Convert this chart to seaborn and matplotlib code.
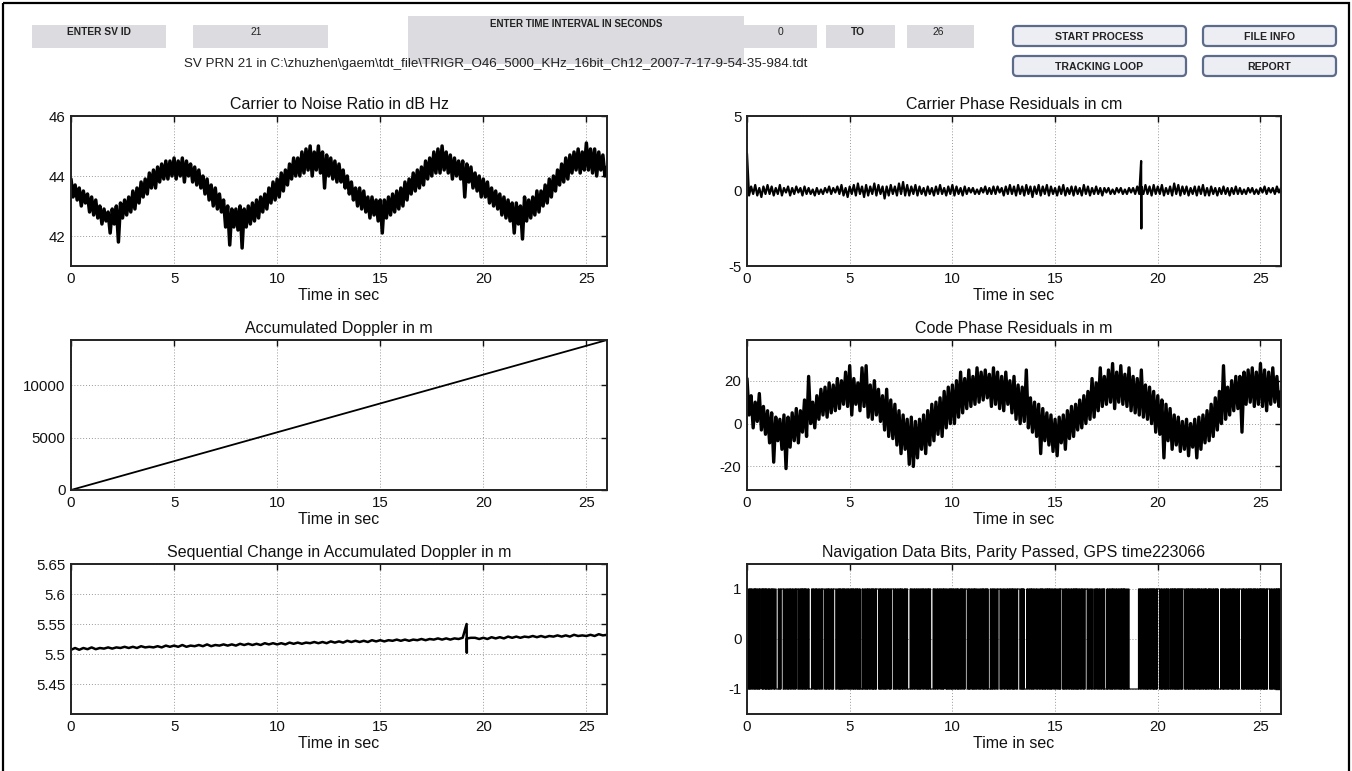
import numpy as np
import pandas as pd
import matplotlib
matplotlib.use("Agg")
import matplotlib.pyplot as plt
from matplotlib.patches import FancyBboxPatch, Rectangle
import seaborn as sns

# ---------------- data ----------------
sample_step = 0.1  # s, for the noisy traces
cn0_db = [
    43.9, 43.3, 43.7, 43.2, 43.6, 43.0, 43.5, 43.1, 43.4, 42.8,
    43.3, 42.7, 43.2, 42.6, 43.0, 42.4, 42.9, 42.5, 42.8, 42.1,
    42.9, 42.4, 43.0, 41.8, 43.1, 42.6, 43.2, 42.7, 43.3, 42.8,
    43.5, 42.9, 43.6, 43.1, 43.8, 43.3, 43.9, 43.4, 44.1, 43.6,
    44.2, 43.6, 44.3, 43.8, 44.4, 43.9, 44.5, 43.9, 44.5, 44.0,
    44.6, 43.9, 44.5, 44.0, 44.6, 43.8, 44.5, 44.0, 44.4, 43.8,
    44.3, 43.7, 44.2, 43.6, 44.0, 43.4, 43.9, 43.2, 43.7, 43.0,
    43.6, 42.9, 43.4, 42.8, 43.2, 42.3, 43.0, 41.7, 42.9, 42.3,
    42.9, 42.2, 43.0, 41.6, 42.9, 42.3, 43.0, 42.4, 43.1, 42.5,
    43.2, 42.6, 43.3, 42.8, 43.4, 42.9, 43.6, 43.1, 43.8, 43.2,
    43.9, 43.3, 44.1, 43.5, 44.2, 43.7, 44.4, 43.9, 44.6, 44.0,
    44.6, 44.0, 44.8, 44.1, 44.9, 44.2, 45.0, 44.0, 44.8, 44.2,
    45.0, 44.1, 44.8, 43.6, 44.7, 44.0, 44.6, 43.9, 44.5, 43.8,
    44.4, 43.8, 44.2, 43.6, 44.0, 43.4, 43.8, 43.2, 43.6, 43.0,
    43.6, 42.9, 43.5, 42.8, 43.3, 42.6, 43.3, 42.7, 43.2, 42.5,
    43.2, 42.1, 43.2, 42.6, 43.3, 42.7, 43.4, 42.8, 43.5, 42.9,
    43.6, 43.0, 43.8, 43.2, 43.9, 43.4, 44.1, 43.5, 44.2, 43.6,
    44.3, 43.7, 44.5, 43.9, 44.6, 44.0, 44.8, 44.1, 44.9, 44.1,
    45.0, 44.2, 44.8, 44.1, 44.7, 43.9, 44.6, 44.0, 44.5, 43.9,
    44.5, 43.3, 44.4, 43.8, 44.3, 43.6, 44.1, 43.5, 44.0, 43.3,
    43.9, 43.3, 43.8, 43.1, 43.6, 43.0, 43.5, 42.9, 43.4, 42.7,
    43.3, 42.6, 43.2, 42.5, 43.1, 42.1, 43.1, 42.4, 43.0, 41.9,
    43.3, 42.5, 43.2, 42.6, 43.3, 42.7, 43.5, 42.8, 43.5, 43.0,
    43.7, 43.1, 43.9, 43.3, 44.0, 43.5, 44.2, 43.7, 44.4, 43.8,
    44.6, 43.9, 44.7, 44.1, 44.8, 44.2, 44.9, 44.1, 44.8, 44.2,
    45.1, 44.2, 44.9, 44.1, 44.9, 44.0, 44.8, 44.2, 44.7, 44.0,
    44.3,
]

carrier_phase_cm = [
    2.5, -0.3, 0.3, -0.2, 0.4, -0.3, 0.2, -0.4, 0.3, -0.2,
    0.4, -0.2, 0.3, -0.3, 0.2, -0.2, 0.4, -0.3, 0.2, -0.1,
    0.3, -0.3, 0.2, -0.2, 0.3, -0.1, 0.2, -0.3, 0.3, -0.2,
    0.2, -0.2, 0.1, -0.3, 0.2, -0.2, 0.1, -0.2, 0.2, -0.1,
    0.3, -0.2, 0.2, -0.1, 0.3, -0.2, 0.4, -0.3, 0.2, -0.4,
    0.3, -0.2, 0.4, -0.3, 0.5, -0.2, 0.3, -0.4, 0.4, -0.3,
    0.3, -0.2, 0.5, -0.3, 0.4, -0.2, 0.3, -0.5, 0.3, -0.3,
    0.4, -0.2, 0.3, -0.3, 0.5, -0.2, 0.6, -0.3, 0.4, -0.3,
    0.3, -0.2, 0.4, -0.3, 0.3, -0.2, 0.2, -0.3, 0.3, -0.2,
    0.2, -0.3, 0.3, -0.2, 0.4, -0.2, 0.2, -0.3, 0.3, -0.2,
    0.4, -0.3, 0.3, -0.2, 0.2, -0.3, 0.3, -0.2, 0.2, -0.1,
    0.2, -0.2, 0.1, -0.2, 0.2, -0.1, 0.3, -0.2, 0.2, -0.2,
    0.3, -0.2, 0.3, -0.1, 0.2, -0.3, 0.3, -0.2, 0.4, -0.2,
    0.3, -0.3, 0.4, -0.2, 0.3, -0.3, 0.4, -0.2, 0.3, -0.4,
    0.3, -0.2, 0.4, -0.3, 0.3, -0.2, 0.4, -0.3, 0.3, -0.2,
    0.2, -0.3, 0.3, -0.2, 0.4, -0.3, 0.2, -0.2, 0.3, -0.3,
    0.3, -0.2, 0.2, -0.3, 0.4, -0.2, 0.3, -0.3, 0.2, -0.2,
    0.3, -0.2, 0.2, -0.3, 0.2, -0.1, 0.2, -0.2, 0.1, -0.2,
    0.2, -0.1, 0.2, -0.2, 0.1, -0.2, 0.2, -0.1, 0.2, -0.2,
    0.3, -0.2, 0.3, -0.2, 0.4, -0.2, 0.3, -0.3, 0.4, -0.2,
    0.3, -0.2, 0.4, -0.3, 0.2, -0.2, 0.3, -0.3, 0.5, -0.2,
    0.4, -0.3, 0.3, -0.2, 0.3, -0.3, 0.2, -0.2, 0.3, -0.3,
    0.3, -0.2, 0.4, -0.3, 0.2, -0.3, 0.3, -0.2, 0.2, -0.3,
    0.2, -0.2, 0.3, -0.2, 0.2, -0.3, 0.2, -0.2, 0.3, -0.2,
    0.2, -0.2, 0.1, -0.2, 0.2, -0.1, 0.2, -0.2, 0.1, -0.2,
    0.2, -0.1, 0.3, -0.2, 0.2, -0.1, 0.2, -0.2, 0.3, -0.1,
    0.2,
]
carrier_spike_time_s = [19.19, 19.20, 19.21]
carrier_spike_cm = [2.0, -2.5, 0.1]

code_phase_m = [
    21, 4, 13, -2, 10, 1, 14, -3, 8, -5,
    6, -9, 5, -18, 3, -8, 2, -12, 4, -21,
    3, -11, 5, -8, 7, -9, 6, -4, 11, -6,
    22, 0, 10, -2, 13, 2, 16, 4, 17, 3,
    19, 5, 18, 6, 21, 7, 20, 9, 24, 8,
    27, 4, 21, 9, 19, 6, 26, 8, 27, 3,
    18, 2, 20, 4, 16, 1, 13, -3, 16, -6,
    11, -7, 9, -10, 6, -14, 4, -12, 2, -19,
    3, -20, 1, -16, 2, -12, 4, -14, 6, -10,
    9, -8, 10, -5, 12, -6, 15, -2, 17, 0,
    18, 0, 20, 3, 24, 5, 21, 7, 25, 8,
    22, 9, 26, 10, 24, 11, 25, 12, 23, 8,
    26, 9, 24, 7, 22, 6, 24, 9, 20, 5,
    22, 2, 18, 0, 17, 1, 25, -2, 12, -4,
    10, -6, 9, -14, 7, -8, 5, -10, 4, -13,
    2, -15, 3, -9, 4, -12, 6, -7, 8, -6,
    9, -3, 11, -2, 13, 0, 15, 2, 21, 3,
    19, 6, 26, 8, 22, 9, 25, 10, 28, 7,
    24, 10, 27, 9, 23, 8, 26, 6, 22, 5,
    21, 4, 25, 3, 18, 2, 17, 0, 15, -4,
    13, -5, 11, -16, 9, -8, 7, -12, 4, -10,
    3, -13, 1, -12, 2, -15, 0, -11, 2, -16,
    3, -12, 4, -9, 6, -8, 9, -6, 12, -3,
    15, 0, 27, 2, 17, 4, 20, 6, 22, 7,
    22, -4, 24, 9, 25, 10, 26, 8, 24, 9,
    28, 8, 25, 6, 24, 9, 26, 10, 22, 8,
    15,
]

accum_time_s = [0, 2, 4, 6, 8, 10, 12, 14, 16, 18, 20, 22, 24, 26]
accum_doppler_m = [0, 1100, 2200, 3300, 4400, 5500, 6600, 7700, 8800,
                   9900, 11000, 12100, 13200, 14300]

seq_step = 0.2
seq_doppler_m = [
    5.507, 5.510, 5.507, 5.510, 5.508, 5.511, 5.508, 5.510, 5.509, 5.511,
    5.509, 5.511, 5.510, 5.512, 5.510, 5.512, 5.510, 5.513, 5.511, 5.512,
    5.511, 5.513, 5.511, 5.514, 5.512, 5.514, 5.512, 5.515, 5.512, 5.514,
    5.513, 5.515, 5.513, 5.516, 5.513, 5.515, 5.514, 5.516, 5.514, 5.516,
    5.514, 5.517, 5.515, 5.517, 5.515, 5.517, 5.515, 5.518, 5.516, 5.518,
    5.516, 5.518, 5.516, 5.519, 5.517, 5.519, 5.517, 5.519, 5.518, 5.520,
    5.518, 5.520, 5.518, 5.521, 5.519, 5.521, 5.519, 5.522, 5.520, 5.522,
    5.520, 5.522, 5.520, 5.523, 5.521, 5.523, 5.521, 5.523, 5.522, 5.524,
    5.522, 5.524, 5.522, 5.524, 5.523, 5.525, 5.523, 5.525, 5.524, 5.526,
    5.524, 5.526, 5.524, 5.526, 5.525, 5.527, 5.525, 5.527, 5.527, 5.525,
    5.527, 5.525, 5.528, 5.526, 5.528, 5.526, 5.529, 5.527, 5.529, 5.527,
    5.529, 5.528, 5.530, 5.528, 5.530, 5.528, 5.530, 5.529, 5.531, 5.529,
    5.531, 5.529, 5.532, 5.530, 5.531, 5.530, 5.532, 5.530, 5.533, 5.531,
    5.532,
]
seq_spike_time_s = [19.19, 19.20, 19.21]
seq_spike_m = [5.550, 5.502, 5.526]

bit_period = 0.02  # s
nav_bits_hex = [
    "A569AB4AF56A952DA60A5F49A",
    "5A69AF4B56A9A05D2A69AF25A",
    "9A5F26A95A6D25A96A50A695A",
    "6A95F2A694BA5F4A695A2DA05",
    "A69A52DA695A05A69B4AF496A",
    "596A2D65F2A695A64BA96A0A5",
    "A65F49A652DA965F2AA0596A5",
    "9A65A92D6A59A64AF25A69A56",
    "A965A5F49A62DA596A0A695A6",
    "9A56A924000005A69A52D6A95",
    "F4A695A2D6A956AF25A96A596",
    "A596A2DA695A05A964BA569A5",
    "F2A695A96A52D6A95F4A695A9",
]

titles = ["Carrier to Noise Ratio in dB Hz", "Carrier Phase Residuals in cm",
          "Accumulated Doppler in m", "Code Phase Residuals in m",
          "Sequential Change in Accumulated Doppler in m",
          "Navigation Data Bits, Parity Passed, GPS time223066"]
x_label = "Time in sec"
x_ticks = [0, 5, 10, 15, 20, 25]
x_range = [0, 26]
y_ranges = [[41, 46], [-5, 5], [0, 14300], [-31, 39], [5.4, 5.65], [-1.5, 1.5]]
y_ticks = [[42, 44, 46], [-5, 0, 5], [0, 5000, 10000], [-20, 0, 20],
           [5.45, 5.5, 5.55, 5.6, 5.65], [-1, 0, 1]]
y_ticklabels = [["42", "44", "46"], ["-5", "0", "5"], ["0", "5000", "10000"],
                ["-20", "0", "20"], ["5.45", "5.5", "5.55", "5.6", "5.65"],
                ["-1", "0", "1"]]

sv_id = "21"
t_start, t_end = "0", "26"
file_line = ("SV PRN 21 in C:\\zhuzhen\\gaem\\tdt_file\\TRIGR_O46_5000_KHz_16bit_"
             "Ch12_2007-7-17-9-54-35-984.tdt")

# ---------------- build frames ----------------
def sampled(vals, step):
    return pd.DataFrame({"t": np.arange(len(vals)) * step, "v": vals})

def with_extra(df, times, vals):
    out = pd.concat([df, pd.DataFrame({"t": times, "v": vals})])
    return out.sort_values("t", kind="mergesort").reset_index(drop=True)

hex_str = "".join(nav_bits_hex)
bits = [int(b) for ch in hex_str for b in format(int(ch, 16), "04b")]
nav_df = pd.DataFrame({"t": np.arange(len(bits)) * bit_period,
                       "v": [1 if b else -1 for b in bits]})

frames = [sampled(cn0_db, sample_step),
          with_extra(sampled(carrier_phase_cm, sample_step),
                     carrier_spike_time_s, carrier_spike_cm),
          pd.DataFrame({"t": accum_time_s, "v": accum_doppler_m}),
          sampled(code_phase_m, sample_step),
          with_extra(sampled(seq_doppler_m, seq_step),
                     seq_spike_time_s, seq_spike_m),
          nav_df]

# ---------------- figure ----------------
sns.set_theme(style="white")
plt.rcParams["font.family"] = ["Liberation Sans", "DejaVu Sans"]

W, H = 1352, 771
fig = plt.figure(figsize=(W / 100, H / 100), dpi=100)
fig.patch.set_facecolor("white")

bg = fig.add_axes([0, 0, 1, 1])
bg.set_xlim(0, W)
bg.set_ylim(H, 0)
bg.axis("off")

# figure border
bg.add_patch(Rectangle((2.5, 2.5), W - 6, H + 20, fill=False, lw=1.6,
                       edgecolor="black"))

box_col = "#dcdce0"
def gray_box(x0, y0, x1, y1):
    bg.add_patch(Rectangle((x0, y0), x1 - x0, y1 - y0, facecolor=box_col,
                           edgecolor="none"))

def box_text(x, y, s, bold=True, size=7.4):
    bg.text(x, y, s, ha="center", va="center", fontsize=size,
            fontweight="bold" if bold else "normal", color="#222222")

gray_box(32, 25, 166, 48)
box_text(99, 32, "ENTER SV ID")
gray_box(193, 25, 328, 48)
box_text(256, 32, sv_id, bold=False)
gray_box(408, 16, 744, 64)
box_text(576, 24, "ENTER TIME INTERVAL IN SECONDS", size=7.0)
gray_box(744, 25, 817, 48)
box_text(781, 32, t_start, bold=False)
gray_box(826, 25, 895, 48)
box_text(858, 32, "TO")
gray_box(907, 25, 974, 48)
box_text(938, 32, t_end, bold=False)

def button(x0, y0, x1, y1, label):
    bg.add_patch(FancyBboxPatch((x0, y0), x1 - x0, y1 - y0,
                                boxstyle="round,pad=0,rounding_size=4",
                                facecolor="#eceef4", edgecolor="#5d6b8a",
                                lw=1.6))
    box_text((x0 + x1) / 2, (y0 + y1) / 2 + 1, label, size=7.6)

button(1013, 26, 1186, 46, "START PROCESS")
button(1203, 26, 1336, 46, "FILE INFO")
button(1013, 56, 1186, 76, "TRACKING LOOP")
button(1203, 56, 1336, 76, "REPORT")

bg.text(496, 64, file_line, ha="center", va="center", fontsize=9.6,
        color="#222222")

# panels
col_x = [71, 747]
col_w = [536, 534]
row_top = [116, 340, 564]
ax_h = 150
line_w = [2.5, 1.6, 1.3, 2.4, 1.8, 0.8]

for i in range(6):
    r, c = divmod(i, 2)
    rect = [col_x[c] / W, 1 - (row_top[r] + ax_h) / H, col_w[c] / W, ax_h / H]
    ax = fig.add_axes(rect)
    kw = {"drawstyle": "steps-post"} if i == 5 else {}
    sns.lineplot(data=frames[i], x="t", y="v", ax=ax, color="black",
                 linewidth=line_w[i], estimator=None, errorbar=None,
                 sort=False, **kw)
    ax.set_xlim(*x_range)
    ax.set_ylim(*y_ranges[i])
    ax.set_xticks(x_ticks)
    ax.set_xticklabels([str(v) for v in x_ticks])
    ax.set_yticks(y_ticks[i])
    ax.set_yticklabels(y_ticklabels[i])
    ax.set_title(titles[i], fontsize=11.5, pad=5, color="#111111")
    ax.set_xlabel(x_label, fontsize=11.5, labelpad=2, color="#111111")
    ax.set_ylabel("")
    ax.grid(True, linestyle=(0, (1, 2)), color="#9a9a9a", lw=0.7)
    ax.tick_params(direction="in", top=True, right=True, length=4, width=1,
                   labelsize=10.8, colors="#111111", pad=4)
    for sp in ax.spines.values():
        sp.set_visible(True)
        sp.set_color("#222222")
        sp.set_linewidth(1.4)
    ax.set_facecolor("white")

fig.savefig("out.png", dpi=100, facecolor="white")
